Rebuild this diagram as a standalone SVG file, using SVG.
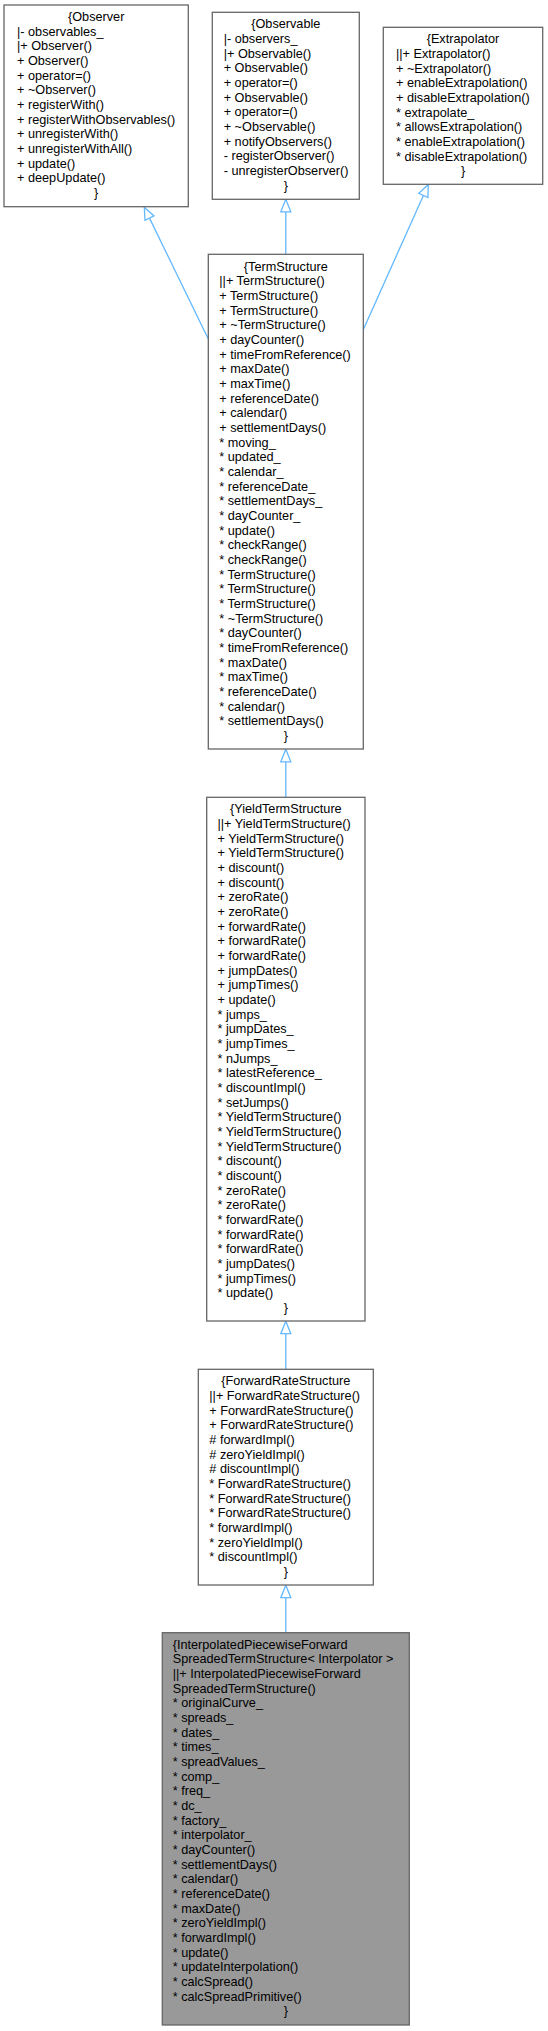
<svg xmlns="http://www.w3.org/2000/svg" width="548" height="2031" viewBox="0 0 548 2031">
<style>
.box{fill:#ffffff;stroke:#666666;stroke-width:1.3}
.cur{fill:#999999;stroke:#666666;stroke-width:1.3}
text{font-family:"Liberation Sans",Arial,sans-serif;font-size:12.7px;fill:#000000}
.c{text-anchor:middle}
.edge{stroke:#63b8ff;stroke-width:1.3;fill:none}
.head{stroke:#63b8ff;stroke-width:1.3;fill:#ffffff}
</style>
<rect x="0" y="0" width="548" height="2031" fill="#ffffff"/>
<g id="connectors">
<line class="edge" x1="208.3" y1="339" x2="149.5" y2="218.1"/>
<polygon class="head" points="144.3,207.3 154,215.9 145,220.3"/>
<line class="edge" x1="285.8" y1="254.3" x2="285.8" y2="211.5"/>
<polygon class="head" points="285.8,199.3 290.8,211.8 280.8,211.8"/>
<line class="edge" x1="363.6" y1="329" x2="423.4" y2="195.4"/>
<polygon class="head" points="428.3,184.5 427.9,197.5 418.8,193.3"/>
<line class="edge" x1="285.8" y1="797.3" x2="285.8" y2="761.5"/>
<polygon class="head" points="285.8,749.3 290.8,761.8 280.8,761.8"/>
<line class="edge" x1="285.8" y1="1369.3" x2="285.8" y2="1333.5"/>
<polygon class="head" points="285.8,1321.2 290.8,1333.7 280.8,1333.7"/>
<line class="edge" x1="285.8" y1="1632.7" x2="285.8" y2="1597.5"/>
<polygon class="head" points="285.8,1585.2 290.8,1597.7 280.8,1597.7"/>
</g>
<g id="Observer">
<rect class="box" x="4" y="5" width="184.3" height="201.7"/>
<text class="c" x="96.2" y="21">{Observer</text>
<text x="17" y="35.67"><tspan x="17">|- observables_</tspan><tspan x="17" dy="14.67">|+ Observer()</tspan><tspan x="17" dy="14.67">+ Observer()</tspan><tspan x="17" dy="14.67">+ operator=()</tspan><tspan x="17" dy="14.67">+ ~Observer()</tspan><tspan x="17" dy="14.67">+ registerWith()</tspan><tspan x="17" dy="14.67">+ registerWithObservables()</tspan><tspan x="17" dy="14.67">+ unregisterWith()</tspan><tspan x="17" dy="14.67">+ unregisterWithAll()</tspan><tspan x="17" dy="14.67">+ update()</tspan><tspan x="17" dy="14.67">+ deepUpdate()</tspan></text>
<text class="c" x="96.2" y="197">}</text>
</g>
<g id="Observable">
<rect class="box" x="212.3" y="12.3" width="147" height="187"/>
<text class="c" x="285.8" y="28.3">{Observable</text>
<text x="223.7" y="42.97"><tspan x="223.7">|- observers_</tspan><tspan x="223.7" dy="14.67">|+ Observable()</tspan><tspan x="223.7" dy="14.67">+ Observable()</tspan><tspan x="223.7" dy="14.67">+ operator=()</tspan><tspan x="223.7" dy="14.67">+ Observable()</tspan><tspan x="223.7" dy="14.67">+ operator=()</tspan><tspan x="223.7" dy="14.67">+ ~Observable()</tspan><tspan x="223.7" dy="14.67">+ notifyObservers()</tspan><tspan x="223.7" dy="14.67">- registerObserver()</tspan><tspan x="223.7" dy="14.67">- unregisterObserver()</tspan></text>
<text class="c" x="285.8" y="189.67">}</text>
</g>
<g id="Extrapolator">
<rect class="box" x="383.3" y="27.3" width="159.4" height="157"/>
<text class="c" x="463" y="43.3">{Extrapolator</text>
<text x="396" y="57.97"><tspan x="396">||+ Extrapolator()</tspan><tspan x="396" dy="14.67">+ ~Extrapolator()</tspan><tspan x="396" dy="14.67">+ enableExtrapolation()</tspan><tspan x="396" dy="14.67">+ disableExtrapolation()</tspan><tspan x="396" dy="14.67">* extrapolate_</tspan><tspan x="396" dy="14.67">* allowsExtrapolation()</tspan><tspan x="396" dy="14.67">* enableExtrapolation()</tspan><tspan x="396" dy="14.67">* disableExtrapolation()</tspan></text>
<text class="c" x="463" y="175.33">}</text>
</g>
<g id="TermStructure">
<rect class="box" x="208.3" y="254.3" width="155" height="494.7"/>
<text class="c" x="285.8" y="270.5">{TermStructure</text>
<text x="219.3" y="285.17"><tspan x="219.3">||+ TermStructure()</tspan><tspan x="219.3" dy="14.67">+ TermStructure()</tspan><tspan x="219.3" dy="14.67">+ TermStructure()</tspan><tspan x="219.3" dy="14.67">+ ~TermStructure()</tspan><tspan x="219.3" dy="14.67">+ dayCounter()</tspan><tspan x="219.3" dy="14.67">+ timeFromReference()</tspan><tspan x="219.3" dy="14.67">+ maxDate()</tspan><tspan x="219.3" dy="14.67">+ maxTime()</tspan><tspan x="219.3" dy="14.67">+ referenceDate()</tspan><tspan x="219.3" dy="14.67">+ calendar()</tspan><tspan x="219.3" dy="14.67">+ settlementDays()</tspan><tspan x="219.3" dy="14.67">* moving_</tspan><tspan x="219.3" dy="14.67">* updated_</tspan><tspan x="219.3" dy="14.67">* calendar_</tspan><tspan x="219.3" dy="14.67">* referenceDate_</tspan><tspan x="219.3" dy="14.67">* settlementDays_</tspan><tspan x="219.3" dy="14.67">* dayCounter_</tspan><tspan x="219.3" dy="14.67">* update()</tspan><tspan x="219.3" dy="14.67">* checkRange()</tspan><tspan x="219.3" dy="14.67">* checkRange()</tspan><tspan x="219.3" dy="14.67">* TermStructure()</tspan><tspan x="219.3" dy="14.67">* TermStructure()</tspan><tspan x="219.3" dy="14.67">* TermStructure()</tspan><tspan x="219.3" dy="14.67">* ~TermStructure()</tspan><tspan x="219.3" dy="14.67">* dayCounter()</tspan><tspan x="219.3" dy="14.67">* timeFromReference()</tspan><tspan x="219.3" dy="14.67">* maxDate()</tspan><tspan x="219.3" dy="14.67">* maxTime()</tspan><tspan x="219.3" dy="14.67">* referenceDate()</tspan><tspan x="219.3" dy="14.67">* calendar()</tspan><tspan x="219.3" dy="14.67">* settlementDays()</tspan></text>
<text class="c" x="285.8" y="739.94">}</text>
</g>
<g id="YieldTermStructure">
<rect class="box" x="206.7" y="797.3" width="158.3" height="523.7"/>
<text class="c" x="285.85" y="813.3">{YieldTermStructure</text>
<text x="217.5" y="827.97"><tspan x="217.5">||+ YieldTermStructure()</tspan><tspan x="217.5" dy="14.67">+ YieldTermStructure()</tspan><tspan x="217.5" dy="14.67">+ YieldTermStructure()</tspan><tspan x="217.5" dy="14.67">+ discount()</tspan><tspan x="217.5" dy="14.67">+ discount()</tspan><tspan x="217.5" dy="14.67">+ zeroRate()</tspan><tspan x="217.5" dy="14.67">+ zeroRate()</tspan><tspan x="217.5" dy="14.67">+ forwardRate()</tspan><tspan x="217.5" dy="14.67">+ forwardRate()</tspan><tspan x="217.5" dy="14.67">+ forwardRate()</tspan><tspan x="217.5" dy="14.67">+ jumpDates()</tspan><tspan x="217.5" dy="14.67">+ jumpTimes()</tspan><tspan x="217.5" dy="14.67">+ update()</tspan><tspan x="217.5" dy="14.67">* jumps_</tspan><tspan x="217.5" dy="14.67">* jumpDates_</tspan><tspan x="217.5" dy="14.67">* jumpTimes_</tspan><tspan x="217.5" dy="14.67">* nJumps_</tspan><tspan x="217.5" dy="14.67">* latestReference_</tspan><tspan x="217.5" dy="14.67">* discountImpl()</tspan><tspan x="217.5" dy="14.67">* setJumps()</tspan><tspan x="217.5" dy="14.67">* YieldTermStructure()</tspan><tspan x="217.5" dy="14.67">* YieldTermStructure()</tspan><tspan x="217.5" dy="14.67">* YieldTermStructure()</tspan><tspan x="217.5" dy="14.67">* discount()</tspan><tspan x="217.5" dy="14.67">* discount()</tspan><tspan x="217.5" dy="14.67">* zeroRate()</tspan><tspan x="217.5" dy="14.67">* zeroRate()</tspan><tspan x="217.5" dy="14.67">* forwardRate()</tspan><tspan x="217.5" dy="14.67">* forwardRate()</tspan><tspan x="217.5" dy="14.67">* forwardRate()</tspan><tspan x="217.5" dy="14.67">* jumpDates()</tspan><tspan x="217.5" dy="14.67">* jumpTimes()</tspan><tspan x="217.5" dy="14.67">* update()</tspan></text>
<text class="c" x="285.85" y="1312.08">}</text>
</g>
<g id="ForwardRateStructure">
<rect class="box" x="198.3" y="1369.3" width="175" height="215.7"/>
<text class="c" x="285.8" y="1385.3">{ForwardRateStructure</text>
<text x="209.3" y="1399.97"><tspan x="209.3">||+ ForwardRateStructure()</tspan><tspan x="209.3" dy="14.67">+ ForwardRateStructure()</tspan><tspan x="209.3" dy="14.67">+ ForwardRateStructure()</tspan><tspan x="209.3" dy="14.67"># forwardImpl()</tspan><tspan x="209.3" dy="14.67"># zeroYieldImpl()</tspan><tspan x="209.3" dy="14.67"># discountImpl()</tspan><tspan x="209.3" dy="14.67">* ForwardRateStructure()</tspan><tspan x="209.3" dy="14.67">* ForwardRateStructure()</tspan><tspan x="209.3" dy="14.67">* ForwardRateStructure()</tspan><tspan x="209.3" dy="14.67">* forwardImpl()</tspan><tspan x="209.3" dy="14.67">* zeroYieldImpl()</tspan><tspan x="209.3" dy="14.67">* discountImpl()</tspan></text>
<text class="c" x="285.8" y="1576.01">}</text>
</g>
<g id="InterpolatedPiecewiseForwardSpreadedTermStructure">
<rect class="cur" x="162.3" y="1632.7" width="247" height="392.3"/>
<text x="172.7" y="1648.7"><tspan x="172.7">{InterpolatedPiecewiseForward</tspan><tspan x="172.7" dy="14.67">SpreadedTermStructure&lt; Interpolator &gt;</tspan><tspan x="172.7" dy="14.67">||+ InterpolatedPiecewiseForward</tspan><tspan x="172.7" dy="14.67">SpreadedTermStructure()</tspan><tspan x="172.7" dy="14.67">* originalCurve_</tspan><tspan x="172.7" dy="14.67">* spreads_</tspan><tspan x="172.7" dy="14.67">* dates_</tspan><tspan x="172.7" dy="14.67">* times_</tspan><tspan x="172.7" dy="14.67">* spreadValues_</tspan><tspan x="172.7" dy="14.67">* comp_</tspan><tspan x="172.7" dy="14.67">* freq_</tspan><tspan x="172.7" dy="14.67">* dc_</tspan><tspan x="172.7" dy="14.67">* factory_</tspan><tspan x="172.7" dy="14.67">* interpolator_</tspan><tspan x="172.7" dy="14.67">* dayCounter()</tspan><tspan x="172.7" dy="14.67">* settlementDays()</tspan><tspan x="172.7" dy="14.67">* calendar()</tspan><tspan x="172.7" dy="14.67">* referenceDate()</tspan><tspan x="172.7" dy="14.67">* maxDate()</tspan><tspan x="172.7" dy="14.67">* zeroYieldImpl()</tspan><tspan x="172.7" dy="14.67">* forwardImpl()</tspan><tspan x="172.7" dy="14.67">* update()</tspan><tspan x="172.7" dy="14.67">* updateInterpolation()</tspan><tspan x="172.7" dy="14.67">* calcSpread()</tspan><tspan x="172.7" dy="14.67">* calcSpreadPrimitive()</tspan></text>
<text class="c" x="285.8" y="2015.45">}</text>
</g>
</svg>
